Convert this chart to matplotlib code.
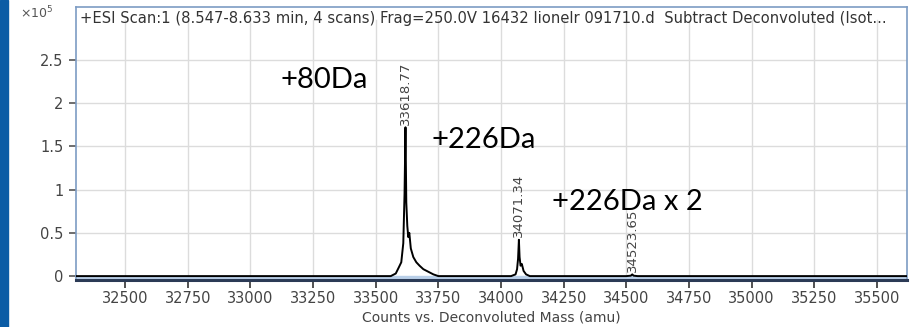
import matplotlib.pyplot as plt
from matplotlib.patches import Rectangle

# deconvoluted spectrum, intensity in units of 1e5 counts
mass = [32300, 33560, 33580, 33592, 33602, 33610, 33615, 33618.77, 33622, 33626,
        33630, 33634, 33640, 33650, 33662, 33675, 33690, 33710, 33730, 33750,
        34040, 34058, 34064, 34068, 34071.34, 34074, 34078, 34083, 34090, 34100,
        34115, 34500, 34518, 34523.65, 34529, 34545, 35620]
counts = [0, 0, 0.03, 0.10, 0.16, 0.38, 0.95, 1.72, 0.85, 0.58,
          0.45, 0.50, 0.32, 0.22, 0.16, 0.12, 0.08, 0.05, 0.02, 0,
          0, 0.02, 0.08, 0.20, 0.42, 0.22, 0.12, 0.14, 0.06, 0.02,
          0, 0, 0.005, 0.02, 0.005, 0, 0]

peak_mass = [33618.77, 34071.34, 34523.65]
peak_height = [1.72, 0.42, 0.02]

shift_text = ['+80Da', '+226Da', '+226Da x 2']
shift_x = [33296, 33932, 34504]
shift_y = [2.27, 1.57, 0.86]

xticks = [32500, 32750, 33000, 33250, 33500, 33750, 34000, 34250, 34500,
          34750, 35000, 35250, 35500]
yticks = [0, 0.5, 1, 1.5, 2, 2.5]
ytick_labels = ['0', '0.5', '1', '1.5', '2', '2.5']

title = ('+ESI Scan:1 (8.547-8.633 min, 4 scans) Frag=250.0V 16432 lionelr '
         '091710.d  Subtract Deconvoluted (Isot...')

fig = plt.figure(figsize=(9.16, 3.27), dpi=100)
fig.patches.append(Rectangle((0, 0), 8 / 916, 1, transform=fig.transFigure,
                             color='#0b5ca5', zorder=0))

ax = fig.add_axes([76 / 916, 1 - 280 / 327, (907 - 76) / 916, (280 - 7) / 327])
ax.set_xlim(32304, 35620)
ax.set_ylim(-0.045, 3.11)
top = 2.96

# grid stops below the header line
for x in xticks:
    ax.plot([x, x], [0, top], color='#dcdcdc', lw=1, zorder=1)
for y in yticks[1:]:
    ax.axhline(y, color='#dcdcdc', lw=1, zorder=1)
ax.axhspan(-0.045, 0, color='#b9cfe8', zorder=2)

ax.plot(mass, counts, color='black', lw=1.4, zorder=3)

for m, h in zip(peak_mass, peak_height):
    ax.text(m, h + 0.03, f'{m:.2f}', rotation=90, ha='center', va='bottom',
            fontsize=9.5, color='#444444')

for t, x, y in zip(shift_text, shift_x, shift_y):
    ax.text(x, y, t, ha='center', va='center', fontsize=21,
            family='Lato', color='black')

ax.text(0.005, 0.985, title, transform=ax.transAxes, ha='left', va='top',
        fontsize=10.6, color='#333333')
fig.text(20 / 916, 1 - 13 / 327, r'$\times10^5$', ha='left', va='center',
         fontsize=9, color='#555555')

ax.set_xticks(xticks)
ax.set_xticklabels([str(x) for x in xticks])
ax.set_yticks(yticks)
ax.set_yticklabels(ytick_labels)
ax.tick_params(axis='x', length=6, width=1.2, color='#333333', labelsize=10.5,
               labelcolor='#444444', pad=2)
ax.tick_params(axis='y', length=5, width=1.2, color='#555555', labelsize=10.5,
               labelcolor='#444444', pad=4)
ax.set_xlabel('Counts vs. Deconvoluted Mass (amu)', fontsize=10,
              color='#444444', labelpad=3)

for side in ['left', 'top', 'right']:
    ax.spines[side].set_color('#7d9cc4')
    ax.spines[side].set_linewidth(1.2)
ax.spines['bottom'].set_color('#2b3a55')
ax.spines['bottom'].set_linewidth(2.2)

fig.savefig('out.png', dpi=100)
